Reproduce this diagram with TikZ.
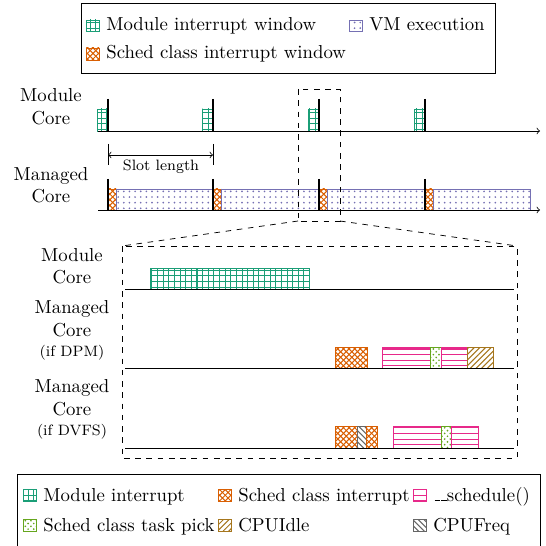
\documentclass[tikz,border=0pt]{standalone}
\usetikzlibrary{patterns}
\definecolor{cgreen}{HTML}{1B9E77}
\definecolor{corange}{HTML}{D95F02}
\definecolor{cpurple}{HTML}{7570B3}
\definecolor{cpink}{HTML}{E7298A}
\definecolor{clime}{HTML}{66A61E}
\definecolor{cbrown}{HTML}{A6761D}
\definecolor{cgray}{HTML}{666666}

% slightly heavier versions of the standard fill patterns
\pgfdeclarepatternformonly{hgrid}{\pgfqpoint{-1pt}{-1pt}}{\pgfqpoint{4pt}{4pt}}{\pgfqpoint{3pt}{3pt}}{%
  \pgfsetlinewidth{0.55pt}%
  \pgfpathmoveto{\pgfqpoint{0pt}{0pt}}\pgfpathlineto{\pgfqpoint{0pt}{3.1pt}}%
  \pgfpathmoveto{\pgfqpoint{0pt}{0pt}}\pgfpathlineto{\pgfqpoint{3.1pt}{0pt}}%
  \pgfusepath{stroke}}
\pgfdeclarepatternformonly{hcross}{\pgfqpoint{-1pt}{-1pt}}{\pgfqpoint{4pt}{4pt}}{\pgfqpoint{3pt}{3pt}}{%
  \pgfsetlinewidth{0.55pt}%
  \pgfpathmoveto{\pgfqpoint{3.1pt}{0pt}}\pgfpathlineto{\pgfqpoint{0pt}{3.1pt}}%
  \pgfpathmoveto{\pgfqpoint{0pt}{0pt}}\pgfpathlineto{\pgfqpoint{3.1pt}{3.1pt}}%
  \pgfusepath{stroke}}
\pgfdeclarepatternformonly{hhlines}{\pgfqpoint{-1pt}{-1pt}}{\pgfqpoint{100pt}{1pt}}{\pgfqpoint{100pt}{3pt}}{%
  \pgfsetlinewidth{0.55pt}%
  \pgfpathmoveto{\pgfqpoint{0pt}{0pt}}\pgfpathlineto{\pgfqpoint{100pt}{0pt}}%
  \pgfusepath{stroke}}
\pgfdeclarepatternformonly{hnelines}{\pgfqpoint{-1pt}{-1pt}}{\pgfqpoint{4pt}{4pt}}{\pgfqpoint{3pt}{3pt}}{%
  \pgfsetlinewidth{0.55pt}%
  \pgfpathmoveto{\pgfqpoint{0pt}{0pt}}\pgfpathlineto{\pgfqpoint{3.1pt}{3.1pt}}%
  \pgfusepath{stroke}}
\pgfdeclarepatternformonly{hnwlines}{\pgfqpoint{-1pt}{-1pt}}{\pgfqpoint{4pt}{4pt}}{\pgfqpoint{3pt}{3pt}}{%
  \pgfsetlinewidth{0.55pt}%
  \pgfpathmoveto{\pgfqpoint{0pt}{3pt}}\pgfpathlineto{\pgfqpoint{3.1pt}{-0.1pt}}%
  \pgfusepath{stroke}}

\tikzset{
  modint/.style={draw=cgreen, pattern=hgrid, pattern color=cgreen},
  schint/.style={draw=corange, pattern=hcross, pattern color=corange},
  vmexec/.style={draw=cpurple, pattern=dots, pattern color=cpurple},
  schedfn/.style={draw=cpink, pattern=hhlines, pattern color=cpink},
  taskpick/.style={draw=clime, pattern=crosshatch dots, pattern color=clime},
  cpuidle/.style={draw=cbrown, pattern=hnelines, pattern color=cbrown},
  cpufreq/.style={draw=cgray, pattern=hnwlines, pattern color=cgray},
  tickmark/.style={line width=1.1pt, black},
  lbl/.style={inner sep=0pt, anchor=base},
  legtext/.style={inner sep=0pt, anchor=base west},
  zoomframe/.style={dashed, black},
}
% narrow underscores as in the classic text encoding
\newcommand\lowbar{\kern.06em\vbox{\hrule width .3em}}

\begin{document}
\begin{tikzpicture}[x=0.533pt, y=-0.533pt]
\useasboundingbox (0,0) rectangle (545,546);

% ---------- top legend ----------
\draw (81,3) rectangle (495,73);
\draw[modint] (86,20) rectangle (99,31.5);
\node[legtext] (l1) at (106,30.5) {Module interrupt window};
\draw[vmexec] (349,20) rectangle (362,31.5);
\node[legtext] (l2) at (369,30.5) {VM execution};
\draw[schint] (86,48) rectangle (99,60);
\node[legtext] (l3) at (106,59) {Sched class interrupt window};

% ---------- overview timelines ----------
\node[lbl] (mc1) at (51,102) {Module};
\node[lbl] (mc2) at (51,125) {Core};
\node[lbl] (gc1) at (51,181) {Managed};
\node[lbl] (gc2) at (51,203) {Core};

\coordinate (axAs) at (98,131);
\coordinate (axAe) at (540,131);
\coordinate (axBs) at (98,210);
\coordinate (axBe) at (540,210);

% module core interrupt windows
\foreach \t in {108,213,319,425} {
  \draw[modint] (\t-10.5,109) rectangle (\t,131);
}
% managed core: sched class interrupt + VM execution
\foreach \t/\n in {108/213,213/319,319/425,425/530} {
  \draw[schint] (\t,189) rectangle (\t+8,210);
  \draw[vmexec] (\t+8,189) rectangle (\n,210);
}
\draw[->] (axAs) -- (axAe);
\draw[->] (axBs) -- (axBe);
\foreach \t in {108,213,319,425} {
  \draw[tickmark] (\t,99) -- (\t,131);
  \draw[tickmark] (\t,179) -- (\t,210);
}

% slot length
\coordinate (sl0) at (108,155);
\coordinate (sl1) at (213,155);
\draw (108,144) -- (108,165);
\draw (213,144) -- (213,165);
\draw[<->] (sl0) -- (sl1);
\node[lbl, font=\footnotesize] (slot) at (161,170.5) {Slot length};

% ---------- zoom frame ----------
\coordinate (zA) at (298,89);
\coordinate (zB) at (340,221);
\coordinate (zBL) at (298,221);
\coordinate (ZA) at (122,246);
\coordinate (ZB) at (517,458);
\coordinate (ZTR) at (517,246);
\draw[zoomframe] (zA) rectangle (zB);
\draw[zoomframe] (ZA) rectangle (ZB);
\draw[zoomframe] (zBL) -- (ZA);
\draw[zoomframe] (zB) -- (ZTR);

% ---------- zoomed timelines ----------
\node[lbl] (zm1) at (72,261) {Module};
\node[lbl] (zm2) at (72,283) {Core};
\node[lbl] (zd1) at (72,313) {Managed};
\node[lbl] (zd2) at (72,336) {Core};
\node[lbl, font=\footnotesize] (zd3) at (72,356) {(if DPM)};
\node[lbl] (zf1) at (72,392) {Managed};
\node[lbl] (zf2) at (72,415) {Core};
\node[lbl, font=\footnotesize] (zf3) at (72,435) {(if DVFS)};

\coordinate (r1s) at (125,289); \coordinate (r1e) at (514,289);
\coordinate (r2s) at (125,368); \coordinate (r2e) at (514,368);
\coordinate (r3s) at (125,448); \coordinate (r3e) at (514,448);

\draw[modint] (150,268) rectangle (309,289);

\draw[schint]   (335,347) rectangle (367,368);
\draw[schedfn]  (382,347) rectangle (430,368);
\draw[taskpick] (430,347) rectangle (441,368);
\draw[schedfn]  (441,347) rectangle (467,368);
\draw[cpuidle]  (467,347) rectangle (493,368);

\draw[schint]   (335,426) rectangle (357,448);
\draw[cpufreq]  (357,426) rectangle (366,448);
\draw[schint]   (366,426) rectangle (377,448);
\draw[schedfn]  (393,426) rectangle (441,448);
\draw[taskpick] (441,426) rectangle (451,448);
\draw[schedfn]  (451,426) rectangle (478,448);

\draw (r1s) -- (r1e);
\draw (r2s) -- (r2e);
\draw (r3s) -- (r3e);

% ---------- bottom legend ----------
\draw (17,474) rectangle (540,560);
\draw[modint]   (23,489) rectangle (36,501);
\node[legtext] (b1) at (43,501) {Module interrupt};
\draw[schint]   (218,489) rectangle (231,501);
\node[legtext] (b2) at (238,501) {Sched class interrupt};
\draw[schedfn]  (413,489) rectangle (426,501);
\node[legtext] (b3) at (433,501) {\lowbar\lowbar schedule()};
\draw[taskpick] (23,519) rectangle (36,531);
\node[legtext] (b4) at (43,531) {Sched class task pick};
\draw[cpuidle]  (218,519) rectangle (231,531);
\node[legtext] (b5) at (238,531) {CPUIdle};
\draw[cpufreq]  (413,519) rectangle (426,531);
\node[legtext] (b6) at (433,531) {CPUFreq};
\end{tikzpicture}
\end{document}
